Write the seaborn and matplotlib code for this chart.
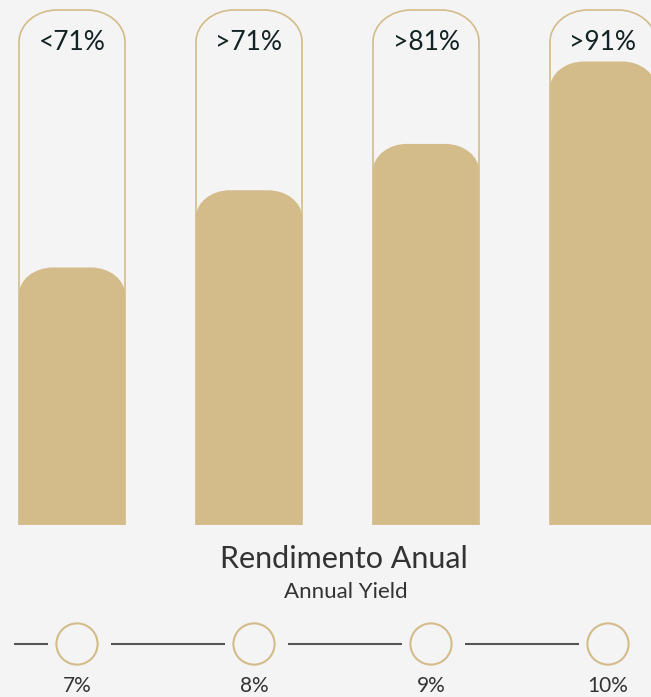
import seaborn as sns
import matplotlib.pyplot as plt
from matplotlib.path import Path
from matplotlib.patches import PathPatch
import pandas as pd

# data
bar_labels = ["<71%", ">71%", ">81%", ">91%"]
fill_levels = [50, 65, 74, 90]   # fill of each tube, tube full = 100
yield_labels = ["7%", "8%", "9%", "10%"]

title = "Rendimento Anual"
subtitle = "Annual Yield"

tan = "#d4bc8a"
bg = "#f4f4f4"

sns.set_style("white")
plt.rcParams["font.family"] = ["Lato", "DejaVu Sans"]

W, H = 651, 697
fig = plt.figure(figsize=(W / 100, H / 100), dpi=100, facecolor=bg)

# bar area: y 10..525 px, one category = 177 px, first bar centred at 72 px
step = 177
ax = fig.add_axes([0, (H - 525) / H, 1, 515 / H])
ax.set_facecolor("none")
df = pd.DataFrame({"label": bar_labels, "level": fill_levels})
sns.barplot(data=df, x="label", y="level", color=tan, saturation=1,
            width=106 / step, ax=ax)
ax.set_xlim(-72 / step, -72 / step + W / step)
ax.set_ylim(0, 100)
ax.axis("off")

px_y = 515 / 100  # px per level unit


def round_top(x0, x1, y0, y1, rx, ry, closed=True):
    k = 0.5523
    verts = [(x0, y0), (x0, y1 - ry),
             (x0, y1 - ry + k * ry), (x0 + rx - k * rx, y1), (x0 + rx, y1),
             (x1 - rx, y1),
             (x1 - rx + k * rx, y1), (x1, y1 - ry + k * ry), (x1, y1 - ry),
             (x1, y0)]
    codes = [Path.MOVETO, Path.LINETO,
             Path.CURVE4, Path.CURVE4, Path.CURVE4,
             Path.LINETO,
             Path.CURVE4, Path.CURVE4, Path.CURVE4,
             Path.LINETO]
    if closed:
        verts.append((x0, y0))
        codes.append(Path.CLOSEPOLY)
    return Path(verts, codes)


for p in list(ax.patches):
    x0, w, h = p.get_x(), p.get_width(), p.get_height()
    p.set_visible(False)
    # tube outline
    tube = PathPatch(round_top(x0, x0 + w, 0, 100, 38 / step, 32 / px_y, closed=False),
                     fill=False, edgecolor=tan, lw=1.2, zorder=1, clip_on=False)
    ax.add_patch(tube)
    # rounded fill
    fill = PathPatch(round_top(x0, x0 + w, 0, h, 34 / step, 27 / px_y),
                     facecolor=tan, edgecolor="none", zorder=2)
    ax.add_patch(fill)

for i, lab in enumerate(bar_labels):
    ax.text(i, (525 - 42) / px_y, lab, ha="center", va="center",
            fontsize=19, color="#132323", zorder=3)

# overlay in pixel coords for the texts and the timeline
ax2 = fig.add_axes([0, 0, 1, 1])
ax2.set_xlim(0, W)
ax2.set_ylim(H, 0)
ax2.axis("off")
ax2.patch.set_visible(False)

ax2.text(344, 559, title, ha="center", va="center", fontsize=22, color="#333333")
ax2.text(346, 592, subtitle, ha="center", va="center", fontsize=16, color="#333333")

cx = [77 + step * i for i in range(len(yield_labels))]
line_y = 644
starts = [14] + [c + 34 for c in cx[:-1]]
ends = [c - 29 for c in cx]
ax2.hlines([line_y] * len(cx), starts, ends, color="#555555", lw=1.5)
sns.scatterplot(x=cx, y=[line_y] * len(cx), s=880, facecolor="none",
                edgecolor=tan, linewidth=1.5, ax=ax2, zorder=3)
ax2.set_xlim(0, W)
ax2.set_ylim(H, 0)
for c, lab in zip(cx, yield_labels):
    ax2.text(c, 686, lab, ha="center", va="center", fontsize=15, color="#333333")

fig.savefig("out.png", dpi=100, facecolor=bg)
